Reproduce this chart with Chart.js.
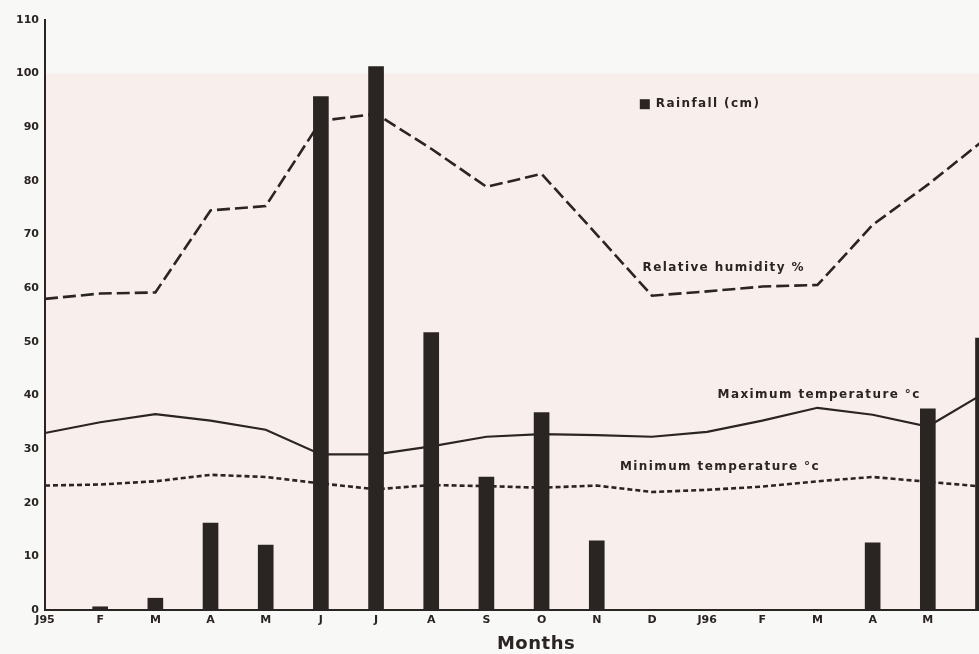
<!DOCTYPE html>
<html>
<head>
<meta charset="utf-8">
<script src="https://cdn.jsdelivr.net/npm/chart.js@4/dist/chart.umd.min.js"></script>
<style>
  html, body { margin: 0; padding: 0; background: #f8f8f7; overflow: hidden; }
  #wrap { width: 1000px; height: 654px; }
  canvas { filter: blur(0.6px); }
</style>
</head>
<body>
<div id="wrap"><canvas id="c" width="1000" height="654"></canvas></div>
<script>
// Monthly climate record, January 1995 to June 1996
const months = ['J95', 'F', 'M', 'A', 'M', 'J', 'J', 'A', 'S', 'O', 'N', 'D',
                'J96', 'F', 'M', 'A', 'M', 'J'];

// Rainfall (cm)
const rainfall = [0, 0.6, 2.2, 16.2, 12.1, 95.7, 101.3, 51.7, 24.8, 36.8, 12.9, 0,
                  0, 0, 0, 12.5, 37.5, 50.7];

// Relative humidity (%)
const humidity = [58, 59, 59.2, 74.5, 75.3, 91.2, 92.5, 86, 78.9, 81.3, 70, 58.6,
                  59.4, 60.3, 60.6, 71.8, 79.3, 87.5];

// Maximum temperature (°C)
const maxTemp = [33, 35, 36.5, 35.3, 33.6, 29, 29, 30.5, 32.3, 32.8, 32.6, 32.3,
                 33.2, 35.3, 37.7, 36.4, 34.2, 40.3];

// Minimum temperature (°C)
const minTemp = [23.2, 23.4, 24, 25.2, 24.8, 23.6, 22.5, 23.3, 23.1, 22.8, 23.2, 22,
                 22.4, 23, 24, 24.8, 23.9, 23];

// Value axis: 0 to 110 in steps of 10
const yMin = 0, yMax = 110, yStep = 10;

const INK = '#2a2422';
const FONT = '"DejaVu Sans", "Liberation Sans", sans-serif';

// Captions written beside each curve, anchored at (month index, value)
const curveNotes = [
  { text: 'Relative humidity %',     at: [10.83, 63.8] },
  { text: 'Maximum temperature °c',  at: [12.19, 40.1] },
  { text: 'Minimum temperature °c',  at: [10.42, 26.7] }
];
const rainKey = { text: 'Rainfall (cm)', at: [10.78, 94.3] };
const axisName = { text: 'Months', at: 8.9 };

// Light paper tint behind the plotting field
const paperTint = {
  id: 'paperTint',
  beforeDraw(chart) {
    const { ctx, chartArea: a, scales: { y } } = chart;
    const top = y.getPixelForValue(100);
    ctx.save();
    ctx.fillStyle = '#f8efed';
    ctx.fillRect(a.left, top, a.right - a.left, a.bottom - top);
    ctx.restore();
  }
};

// Curve captions, the rainfall key and the month axis name
const captions = {
  id: 'captions',
  afterDatasetsDraw(chart) {
    const { ctx, scales: { x, y } } = chart;
    ctx.save();
    ctx.fillStyle = INK;
    ctx.font = 'bold 12px ' + FONT;
    ctx.letterSpacing = '1.4px';
    ctx.textBaseline = 'middle';
    for (const n of curveNotes) {
      ctx.fillText(n.text, x.getPixelForValue(n.at[0]), y.getPixelForValue(n.at[1]));
    }
    const kx = x.getPixelForValue(rainKey.at[0]);
    const ky = y.getPixelForValue(rainKey.at[1]);
    ctx.fillRect(kx, ky - 5, 10, 10);
    ctx.fillText(rainKey.text, kx + 16, ky);

    ctx.letterSpacing = '0.5px';
    ctx.font = 'bold 18px ' + FONT;
    ctx.textAlign = 'center';
    ctx.textBaseline = 'alphabetic';
    ctx.fillText(axisName.text, x.getPixelForValue(axisName.at), chart.height - 5);
    ctx.restore();
  }
};

new Chart(document.getElementById('c'), {
  data: {
    labels: months,
    datasets: [
      {
        type: 'line', label: 'Relative humidity %', data: humidity,
        borderColor: INK, borderWidth: 2.6, borderDash: [13, 5],
        pointRadius: 0, tension: 0, fill: false
      },
      {
        type: 'line', label: 'Maximum temperature °c', data: maxTemp,
        borderColor: INK, borderWidth: 2.2,
        pointRadius: 0, tension: 0, fill: false
      },
      {
        type: 'line', label: 'Minimum temperature °c', data: minTemp,
        borderColor: INK, borderWidth: 2.6, borderDash: [5, 3],
        pointRadius: 0, tension: 0, fill: false
      },
      {
        type: 'bar', label: 'Rainfall (cm)', data: rainfall,
        backgroundColor: INK, barThickness: 15
      }
    ]
  },
  options: {
    responsive: false,
    animation: false,
    events: [],
    layout: { padding: { top: 20, right: 17, bottom: 0, left: 0 } },
    plugins: {
      legend: { display: false },
      tooltip: { enabled: false }
    },
    scales: {
      x: {
        offset: false,
        grid: { display: false, drawTicks: false },
        border: { display: true, color: INK, width: 2 },
        ticks: {
          autoSkip: false, maxRotation: 0, padding: 4,
          color: INK, font: { family: FONT, size: 11, weight: 'bold' }
        },
        afterFit(scale) { scale.height = 44; }
      },
      y: {
        min: yMin, max: yMax,
        grid: { display: false, drawTicks: false },
        border: { display: true, color: INK, width: 2 },
        ticks: {
          stepSize: yStep, padding: 6,
          color: INK, font: { family: FONT, size: 11, weight: 'bold' }
        },
        afterFit(scale) { scale.width = 45; }
      }
    }
  },
  plugins: [paperTint, captions]
});
</script>
</body>
</html>
